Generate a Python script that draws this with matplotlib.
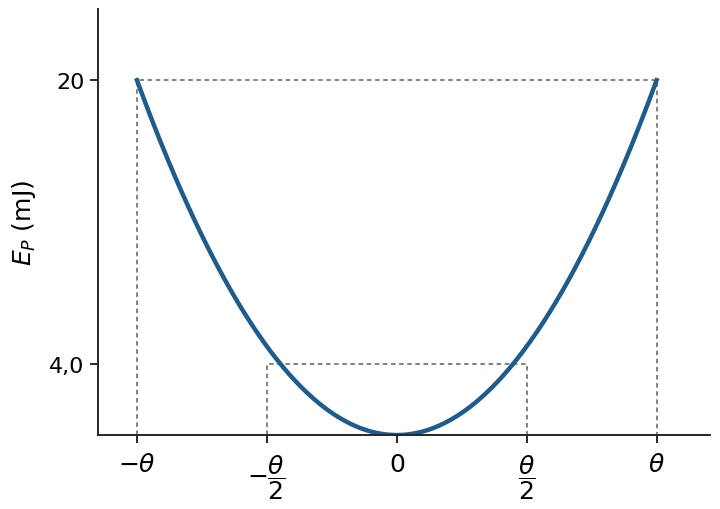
import numpy as np
import matplotlib
matplotlib.use("Agg")
import matplotlib.pyplot as plt

# potential energy of the swing, E_P = E_max * (x / theta)^2
e_max = 20.0
e_low = 4.0
x_ticks = [-1, -0.5, 0, 0.5, 1]
x_labels = [r'$-\theta$', r'$-\dfrac{\theta}{2}$', r'$0$', r'$\dfrac{\theta}{2}$', r'$\theta$']
y_ticks = [4.0, 20.0]
y_labels = ['4,0', '20']

x = np.linspace(-1, 1, 400)
energy = e_max * x ** 2

fig = plt.figure(figsize=(7.2, 5.1), dpi=100)
ax = fig.add_axes([0.136, 0.145, 0.85, 0.835])

dash = dict(color='#777777', linestyle=(0, (2.5, 2)), linewidth=1.3)
ax.plot([-1, -1, 1, 1], [0, e_max, e_max, 0], **dash)
ax.plot([-0.5, -0.5, 0.5, 0.5], [0, e_low, e_low, 0], **dash)
ax.plot(x, energy, color='#1f5b8b', linewidth=3.2)

ax.set_xlim(-1.15, 1.205)
ax.set_ylim(0, 24)
ax.set_xticks(x_ticks)
ax.set_xticklabels(x_labels, fontsize=18)
ax.set_yticks(y_ticks)
ax.set_yticklabels(y_labels, fontsize=16)
ax.set_ylabel(r'$E_P$ (mJ)', fontsize=18, labelpad=8)

for s in ['top', 'right']:
    ax.spines[s].set_visible(False)
for s in ['left', 'bottom']:
    ax.spines[s].set_color('#262626')
    ax.spines[s].set_linewidth(1.4)
ax.tick_params(color='#262626', labelcolor='black', width=1.4, length=6)
ax.tick_params(axis='x', pad=6)

fig.savefig('out.png', dpi=100)
